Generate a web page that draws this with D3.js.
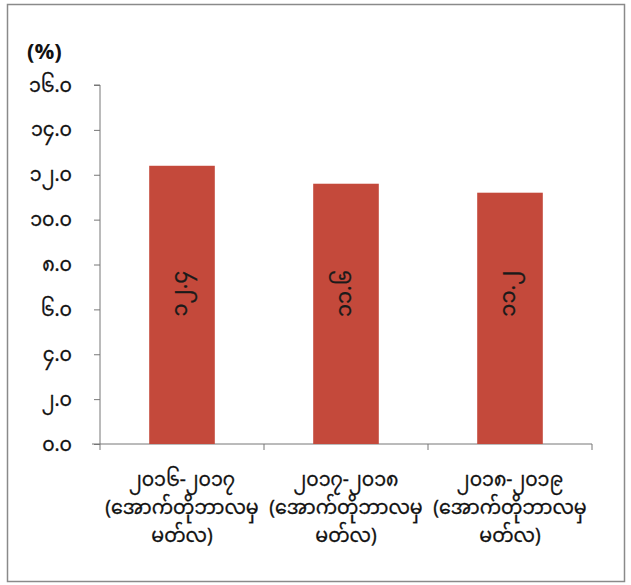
<!DOCTYPE html>
<html>
<head>
<meta charset="utf-8">
<script src="https://cdn.jsdelivr.net/npm/d3@7/dist/d3.min.js"></script>
<style>
  html, body { margin: 0; padding: 0; background: #fff; }
  svg { display: block; }
  text { font-family: "Noto Sans Myanmar", "Padauk", "Myanmar Text", "Noto Sans", sans-serif; }
</style>
</head>
<body>
<svg id="chart" width="631" height="585"></svg>
<script>
const categories = [
  ["၂၀၁၆-၂၀၁၇", "(အောက်တိုဘာလမှ", "မတ်လ)"],
  ["၂၀၁၇-၂၀၁၈", "(အောက်တိုဘာလမှ", "မတ်လ)"],
  ["၂၀၁၈-၂၀၁၉", "(အောက်တိုဘာလမှ", "မတ်လ)"]
];
const values = [12.4, 11.6, 11.2];
const valueLabels = ["၁၂.၄", "၁၁.၆", "၁၁.၂"];
const yTicks = [0, 2, 4, 6, 8, 10, 12, 14, 16];
const yTickLabels = ["၀.၀", "၂.၀", "၄.၀", "၆.၀", "၈.၀", "၁၀.၀", "၁၂.၀", "၁၄.၀", "၁၆.၀"];
const unitLabel = "(%)";

const svg = d3.select("#chart");

// outer frame
svg.append("rect")
  .attr("x", 7.5).attr("y", 4.5).attr("width", 617).attr("height", 577)
  .attr("fill", "none").attr("stroke", "#8a8a8a").attr("stroke-width", 1.5);

const plot = { left: 100, right: 592, top: 85, bottom: 444 };

const x = d3.scaleBand()
  .domain(d3.range(categories.length))
  .range([plot.left, plot.right])
  .paddingInner(0.6).paddingOuter(0.3);

const y = d3.scaleLinear().domain([0, 16]).range([plot.bottom, plot.top]);

// y axis
const yAxis = d3.axisLeft(y).tickValues(yTicks).tickSize(6).tickPadding(22)
  .tickFormat((d, i) => yTickLabels[i]);
const gy = svg.append("g").attr("transform", `translate(${plot.left},0)`).call(yAxis);
gy.select(".domain").attr("stroke", "#777").attr("d", `M-6,${plot.top}H0V${plot.bottom}`);
gy.selectAll(".tick line").attr("stroke", "#777");
gy.selectAll(".tick text").attr("font-size", 19).attr("fill", "#111")
  .attr("stroke", "#111").attr("stroke-width", 0.3);

// x axis
const xEdges = d3.range(categories.length + 1).map(i => plot.left + i * (plot.right - plot.left) / categories.length);
svg.append("line")
  .attr("x1", plot.left - 8).attr("x2", plot.right).attr("y1", plot.bottom).attr("y2", plot.bottom)
  .attr("stroke", "#777");
svg.selectAll(".xtick").data(xEdges).enter().append("line")
  .attr("x1", d => d).attr("x2", d => d)
  .attr("y1", plot.bottom).attr("y2", plot.bottom + 6)
  .attr("stroke", "#777");

// bars
svg.selectAll(".bar").data(values).enter().append("rect")
  .attr("x", (d, i) => x(i))
  .attr("y", d => y(d))
  .attr("width", x.bandwidth())
  .attr("height", d => y(0) - y(d))
  .attr("fill", "#c4493b");

// bar value labels (rotated)
svg.selectAll(".vlabel").data(valueLabels).enter().append("text")
  .attr("transform", (d, i) => `translate(${x(i) + x.bandwidth() / 2},${y(6.7)}) rotate(-90)`)
  .attr("text-anchor", "middle")
  .attr("dominant-baseline", "central")
  .attr("font-size", 21)
  .attr("fill", "#1a1a1a")
  .attr("stroke", "#1a1a1a").attr("stroke-width", 0.3)
  .text(d => d);

// category labels
const cat = svg.selectAll(".cat").data(categories).enter().append("text")
  .attr("text-anchor", "middle")
  .attr("font-size", 19)
  .attr("fill", "#111")
  .attr("stroke", "#111").attr("stroke-width", 0.3);
cat.selectAll("tspan").data((d, i) => d.map(t => ({ t, i }))).enter().append("tspan")
  .attr("x", d => x(d.i) + x.bandwidth() / 2)
  .attr("y", (d, j) => 486 + j * 28)
  .text(d => d.t);

// unit label
svg.append("text")
  .attr("x", 27).attr("y", 59)
  .attr("font-size", 22).attr("font-weight", "bold")
  .attr("font-family", "Lato, 'Noto Sans', sans-serif")
  .attr("fill", "#111")
  .text(unitLabel);
</script>
</body>
</html>
